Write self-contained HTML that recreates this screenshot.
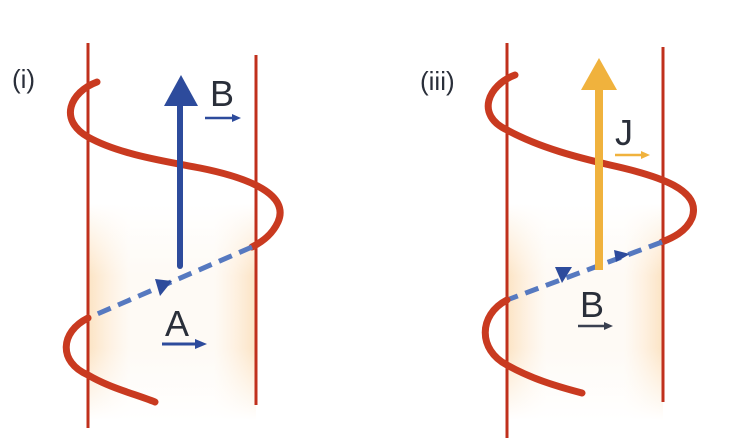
<!DOCTYPE html>
<html><head><style>
html,body{margin:0;padding:0;background:#fff;}
svg{display:block;}
text{font-family:"Liberation Sans",sans-serif;fill:#2a2f3a;}
</style></head><body>
<svg width="736" height="445" viewBox="0 0 736 445">
<defs>
<linearGradient id="g1" x1="0" x2="1" y1="0" y2="0">
<stop offset="0" stop-color="#fbd3a0" stop-opacity="0.7"/>
<stop offset="0.25" stop-color="#fde9d2" stop-opacity="0.25"/>
<stop offset="0.75" stop-color="#fde9d2" stop-opacity="0.25"/>
<stop offset="1" stop-color="#fbd3a0" stop-opacity="0.7"/>
</linearGradient>
<linearGradient id="fade" x1="0" x2="0" y1="0" y2="1">
<stop offset="0" stop-color="#fff" stop-opacity="1"/>
<stop offset="0.4" stop-color="#fff" stop-opacity="1"/>
<stop offset="0.6" stop-color="#fff" stop-opacity="0.1"/>
<stop offset="0.8" stop-color="#fff" stop-opacity="0.1"/>
<stop offset="1" stop-color="#fff" stop-opacity="1"/>
</linearGradient>
</defs>
<!-- panel 1 -->
<rect x="88" y="60" width="168" height="360" fill="url(#g1)"/>
<rect x="88" y="60" width="168" height="360" fill="url(#fade)"/>
<text x="12" y="88" font-size="26">(i)</text>
<line x1="88" y1="43" x2="88" y2="428" stroke="#c0301c" stroke-width="3"/>
<line x1="256" y1="55" x2="256" y2="405" stroke="#c0301c" stroke-width="3"/>
<path d="M97,82 C70,92 58,120 88,137 C120,155 170,162 200,168 C250,178 290,195 278,222 C272,235 262,242 252,247" fill="none" stroke="#c93a20" stroke-width="7" stroke-linecap="round"/>
<path d="M252,247 L88,318" stroke="#5679c0" stroke-width="5" stroke-dasharray="14,8"/>
<path d="M88,318 C60,332 58,362 88,375 C110,388 135,394 155,402" fill="none" stroke="#c93a20" stroke-width="7" stroke-linecap="round"/>
<line x1="180" y1="266" x2="180" y2="100" stroke="#2d4b9c" stroke-width="6" stroke-linecap="round"/>
<polygon points="164,106 198,106 181,75" fill="#2d4b9c"/>
<polygon points="155,279 172,281 160,296" fill="#2d4b9c"/>
<text x="210" y="106" font-size="36">B</text>
<line x1="205" y1="118" x2="234" y2="118" stroke="#2d4b9c" stroke-width="2.5"/>
<polygon points="232,114 241,118 232,122" fill="#2d4b9c"/>
<text x="165" y="336" font-size="36">A</text>
<line x1="162" y1="344" x2="198" y2="344" stroke="#2d4b9c" stroke-width="3"/>
<polygon points="195,339 207,344 195,349" fill="#2d4b9c"/>
<!-- panel 2 -->
<rect x="507" y="60" width="156" height="360" fill="url(#g1)"/>
<rect x="507" y="60" width="156" height="360" fill="url(#fade)"/>
<text x="420" y="90" font-size="26">(iii)</text>
<line x1="507" y1="43" x2="507" y2="438" stroke="#c0301c" stroke-width="3"/>
<line x1="663" y1="47" x2="663" y2="402" stroke="#c0301c" stroke-width="3"/>
<path d="M515,75 C488,85 475,115 507,130 C540,148 580,158 610,165 C660,176 702,190 692,218 C686,232 672,238 662,242" fill="none" stroke="#c93a20" stroke-width="7" stroke-linecap="round"/>
<path d="M662,242 L507,300" stroke="#5679c0" stroke-width="5" stroke-dasharray="14,8"/>
<path d="M507,300 C478,315 478,350 507,365 C530,378 555,386 582,393" fill="none" stroke="#c93a20" stroke-width="7" stroke-linecap="round"/>
<line x1="599" y1="270" x2="599" y2="85" stroke="#f0b23d" stroke-width="8"/>
<polygon points="581,90 617,90 599,58" fill="#f0b23d"/>
<polygon points="555,267 572,267 562,283" fill="#2d4b9c"/>
<polygon points="614,250 630,254 616,262" fill="#2d4b9c"/>
<text x="615" y="145" font-size="36">J</text>
<line x1="615" y1="155" x2="643" y2="155" stroke="#f0b23d" stroke-width="2.5"/>
<polygon points="641,151 650,155 641,159" fill="#f0b23d"/>
<text x="580" y="317" font-size="36">B</text>
<line x1="578" y1="326" x2="606" y2="326" stroke="#3a4050" stroke-width="2.5"/>
<polygon points="604,322 613,326 604,330" fill="#3a4050"/>
</svg>
</body></html>
